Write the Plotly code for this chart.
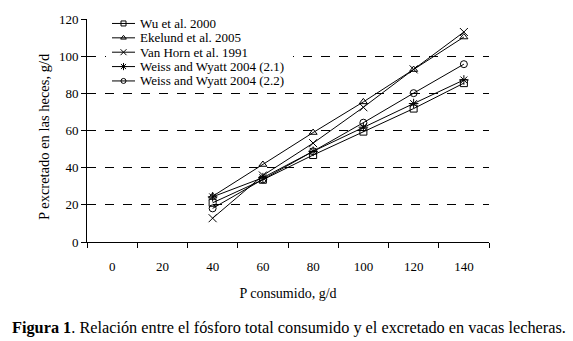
import plotly.graph_objects as go

categories = ["0", "20", "40", "60", "80", "100", "120", "140"]
x_points = ["40", "60", "80", "100", "120", "140"]

wu_2000 = [21.1, 33.5, 46.8, 59.4, 71.8, 85.5]
ekelund_2005 = [24.6, 41.7, 58.9, 75.4, 92.8, 110.3]
van_horn_1991 = [12.8, 35.8, 53.2, 72.5, 92.9, 113.0]
weiss_21 = [24.3, 34.6, 48.8, 61.8, 74.5, 87.2]
weiss_22 = [18.1, 33.7, 48.8, 64.2, 80.1, 95.7]

series_names = ["Wu et al. 2000", "Ekelund et al. 2005", "Van Horn et al. 1991",
                "Weiss and Wyatt 2004 (2.1)", "Weiss and Wyatt 2004 (2.2)"]
series_values = [wu_2000, ekelund_2005, van_horn_1991, weiss_21, weiss_22]
symbols = ["square-open", "triangle-up-open", "x-thin-open", "asterisk-open", "circle-open"]
sizes = [7, 7, 8, 8, 7]
legend_sizes = [5, 5, 6, 6, 5]

serif = "Liberation Serif, Times New Roman, serif"

# layout geometry (pixels)
W, H = 573, 341
ML, MR, MT, MB = 87, 84, 17, 99
PL, PR, PT, PB = ML, W - MR, MT, H - MB

def px_x(p):
    return (p - PL) / (PR - PL)

def px_y(p):
    return (PB - p) / (PB - PT)

fig = go.Figure()
for name, vals, sym, sz in zip(series_names, series_values, symbols, sizes):
    fig.add_trace(go.Scatter(
        x=x_points, y=vals, name=name, mode="lines+markers", showlegend=False,
        line=dict(color="black", width=1),
        marker=dict(symbol=sym, size=sz, color="black",
                    line=dict(color="black", width=1)),
    ))

# custom legend: white box + samples on an overlay axis expressed in pixel units
leg_box = (106, 293, 11, 88)  # x0, x1, y0, y1
leg_line_x0, leg_line_x1, leg_text_x = 112, 135, 138
leg_row0, leg_step = 21.5, 14.5
bx0, bx1, by0, by1 = leg_box
fig.add_trace(go.Scatter(
    x=[bx0, bx1, bx1, bx0, bx0], y=[max(by0, PT), max(by0, PT), by1, by1, max(by0, PT)],
    xaxis="x2", yaxis="y2", mode="lines", fill="toself", fillcolor="white",
    line=dict(width=0, color="white"), showlegend=False, hoverinfo="skip",
))
fig.add_shape(type="rect", xref="paper", yref="paper",
              x0=px_x(bx0), x1=px_x(bx1), y0=px_y(PT), y1=px_y(by0),
              fillcolor="white", line=dict(width=0), layer="above")
for i, (name, sym, lsz) in enumerate(zip(series_names, symbols, legend_sizes)):
    ry = leg_row0 + i * leg_step
    fig.add_trace(go.Scatter(
        x=[leg_line_x0, (leg_line_x0 + leg_line_x1) / 2, leg_line_x1], y=[ry, ry, ry],
        xaxis="x2", yaxis="y2", mode="lines+markers", showlegend=False, hoverinfo="skip",
        line=dict(color="black", width=1),
        marker=dict(symbol=sym, size=lsz, color="black", opacity=[0, 1, 0],
                    line=dict(color="black", width=1)),
    ))
    fig.add_annotation(text=name, xref="paper", yref="paper",
                       x=px_x(leg_text_x), y=px_y(ry), xanchor="left", yanchor="middle",
                       showarrow=False, font=dict(family=serif, size=13, color="black"))

fig.update_layout(
    width=W, height=H,
    margin=dict(l=ML, r=MR, t=MT, b=MB),
    paper_bgcolor="white", plot_bgcolor="white",
    font=dict(family=serif, size=13, color="black"),
    showlegend=False,
    xaxis=dict(
        type="category", categoryorder="array", categoryarray=categories,
        range=[-0.5, 7.5], tickson="boundaries",
        ticks="outside", ticklen=5, tickcolor="black",
        showline=True, linecolor="black", linewidth=1,
        showgrid=False, ticklabelstandoff=12,
        tickfont=dict(family=serif, size=13, color="black"),
        title=dict(text="P consumido, g/d", standoff=15,
                   font=dict(family=serif, size=14, color="black")),
    ),
    yaxis=dict(
        range=[0, 120], dtick=20,
        ticks="outside", ticklen=5, tickcolor="black",
        showline=True, linecolor="black", linewidth=1,
        showgrid=True, gridcolor="black", gridwidth=1, griddash="dash",
        zeroline=False,
        tickfont=dict(family=serif, size=13, color="black"),
    ),
    xaxis2=dict(overlaying="x", range=[PL, PR], visible=False, fixedrange=True),
    yaxis2=dict(overlaying="y", range=[PB, PT], visible=False, fixedrange=True),
)

fig.add_annotation(
    text="P excretado en las heces, g/d", textangle=-90,
    xref="paper", yref="paper", x=px_x(44), y=px_y(136), xanchor="center", yanchor="middle",
    showarrow=False, font=dict(family=serif, size=14.5, color="black"),
)

fig.add_annotation(
    text="<b>Figura 1</b>. Relación entre el fósforo total consumido y el excretado en vacas lecheras.",
    xref="paper", yref="paper", x=px_x(289), y=px_y(328), xanchor="center", yanchor="middle",
    showarrow=False, font=dict(family=serif, size=16.3, color="black"),
)

fig.write_html("out.html")
